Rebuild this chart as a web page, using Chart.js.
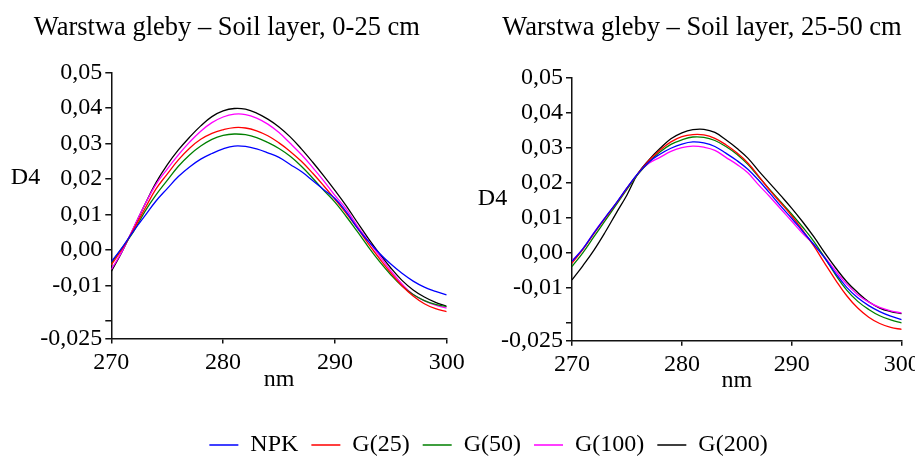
<!DOCTYPE html>
<html lang="pl">
<head>
    <meta charset="UTF-8">
    <title>D4 - Soil layers</title>
    <script src="https://cdn.jsdelivr.net/npm/chart.js"></script>
    <style>
        html, body {
            margin: 0;
            padding: 0;
            background: #fff;
            overflow: hidden;
        }
        body {
            width: 915px;
            height: 457px;
            position: relative;
        }
        .panel {
            position: absolute;
        }
        #leftBox { left: 0; top: 0; width: 480px; height: 400px; }
        #rightBox { left: 460px; top: 0; width: 470px; height: 400px; }
        /* legend box is taller than the page so the legend gets its full height */
        #legendBox { left: 62px; top: 420px; width: 853px; height: 110px; }
    </style>
</head>
<body>
    <div class="panel" id="leftBox"><canvas id="leftChart"></canvas></div>
    <div class="panel" id="rightBox"><canvas id="rightChart"></canvas></div>
    <div class="panel" id="legendBox"><canvas id="legendChart"></canvas></div>

    <script>
        // wavelength, nm
        const wavelengths = [270, 271, 272, 273, 274, 275, 276, 277, 278, 279, 280,
                             281, 282, 283, 284, 285, 286, 287, 288, 289, 290,
                             291, 292, 293, 294, 295, 296, 297, 298, 299, 300];

        const seriesNames = ['NPK', 'G(25)', 'G(50)', 'G(100)', 'G(200)'];
        const seriesColors = ['#0000ff', '#ff0000', '#008000', '#ff00ff', '#000000'];

        // soil layer 0-25 cm
        const npkTop = [-0.0033, 0.0008, 0.0054, 0.0096, 0.0138, 0.0173, 0.0207, 0.0234, 0.0256, 0.0272, 0.0285,
                        0.0293, 0.0292, 0.0285, 0.0274, 0.0261, 0.0241, 0.0221, 0.0196, 0.0170, 0.0145,
                        0.0108, 0.0062, 0.0024, -0.0010, -0.0040, -0.0066, -0.0088, -0.0105, -0.0117, -0.0127];
        const g25Top = [-0.0042, 0.0004, 0.0058, 0.0116, 0.0172, 0.0214, 0.0254, 0.0287, 0.0312, 0.0329, 0.0339,
                        0.0345, 0.0344, 0.0336, 0.0322, 0.0302, 0.0278, 0.0250, 0.0217, 0.0181, 0.0143,
                        0.0104, 0.0062, 0.0017, -0.0025, -0.0065, -0.0101, -0.0130, -0.0152, -0.0166, -0.0174];
        const g50Top = [-0.0037, 0.0007, 0.0052, 0.0108, 0.0155, 0.0196, 0.0236, 0.0268, 0.0293, 0.0312, 0.0323,
                        0.0327, 0.0325, 0.0317, 0.0303, 0.0286, 0.0264, 0.0236, 0.0203, 0.0168, 0.0135,
                        0.0095, 0.0052, 0.0008, -0.0033, -0.0070, -0.0102, -0.0126, -0.0143, -0.0154, -0.0160];
        const g100Top = [-0.0055, -0.0002, 0.0063, 0.0128, 0.0185, 0.0228, 0.0268, 0.0304, 0.0335, 0.0359, 0.0375,
                         0.0383, 0.0382, 0.0372, 0.0355, 0.0331, 0.0301, 0.0269, 0.0233, 0.0195, 0.0154,
                         0.0116, 0.0068, 0.0025, -0.0017, -0.0059, -0.0096, -0.0126, -0.0143, -0.0156, -0.0164];
        const g200Top = [-0.0061, -0.0003, 0.0062, 0.0128, 0.0190, 0.0240, 0.0282, 0.0318, 0.0350, 0.0376, 0.0392,
                         0.0399, 0.0397, 0.0386, 0.0369, 0.0347, 0.0319, 0.0285, 0.0248, 0.0209, 0.0168,
                         0.0125, 0.0078, 0.0032, -0.0011, -0.0051, -0.0086, -0.0113, -0.0133, -0.0148, -0.0159];

        // soil layer 25-50 cm
        const npkSub = [-0.0024, 0.0012, 0.0057, 0.0100, 0.0141, 0.0185, 0.0226, 0.0259, 0.0281, 0.0298, 0.0310,
                        0.0316, 0.0313, 0.0303, 0.0284, 0.0263, 0.0238, 0.0206, 0.0170, 0.0133, 0.0098,
                        0.0061, 0.0024, -0.0015, -0.0059, -0.0098, -0.0128, -0.0150, -0.0167, -0.0180, -0.0190];
        const g25Sub = [-0.0029, 0.0010, 0.0055, 0.0098, 0.0140, 0.0184, 0.0226, 0.0263, 0.0292, 0.0316, 0.0331,
                        0.0337, 0.0336, 0.0326, 0.0308, 0.0285, 0.0256, 0.0218, 0.0178, 0.0142, 0.0105,
                        0.0064, 0.0020, -0.0030, -0.0078, -0.0122, -0.0157, -0.0183, -0.0201, -0.0212, -0.0218];
        const g50Sub = [-0.0039, 0.0001, 0.0046, 0.0091, 0.0136, 0.0181, 0.0224, 0.0259, 0.0287, 0.0309, 0.0322,
                        0.0330, 0.0329, 0.0320, 0.0303, 0.0281, 0.0252, 0.0216, 0.0180, 0.0145, 0.0110,
                        0.0073, 0.0033, -0.0014, -0.0063, -0.0106, -0.0138, -0.0161, -0.0179, -0.0191, -0.0199];
        const g100Sub = [-0.0023, 0.0012, 0.0058, 0.0100, 0.0140, 0.0185, 0.0225, 0.0255, 0.0272, 0.0289, 0.0300,
                         0.0304, 0.0301, 0.0292, 0.0272, 0.0252, 0.0228, 0.0193, 0.0160, 0.0125, 0.0090,
                         0.0055, 0.0024, -0.0012, -0.0052, -0.0089, -0.0119, -0.0140, -0.0155, -0.0165, -0.0171];
        const g200Sub = [-0.0077, -0.0036, 0.0008, 0.0058, 0.0112, 0.0165, 0.0226, 0.0265, 0.0297, 0.0325, 0.0342,
                         0.0351, 0.0352, 0.0343, 0.0322, 0.0298, 0.0270, 0.0233, 0.0198, 0.0163, 0.0127,
                         0.0088, 0.0046, 0.0000, -0.0043, -0.0082, -0.0113, -0.0139, -0.0157, -0.0167, -0.0173];

        // axis ticks
        const xTickVals = [270, 280, 290, 300];
        const yTickVals = [-0.025, -0.02, -0.01, 0, 0.01, 0.02, 0.03, 0.04, 0.05];
        const yTickLabels = ['-0,025', '', '-0,01', '0,00', '0,01', '0,02', '0,03', '0,04', '0,05'];

        const SERIF = '"Liberation Serif", "Times New Roman", serif';
        Chart.defaults.font.family = SERIF;
        Chart.defaults.font.size = 24;
        Chart.defaults.color = '#000';
        Chart.defaults.animation = false;

        // horizontal "D4" label beside the y axis
        const sideLabel = {
            id: 'sideLabel',
            afterDraw(chart, args, opts) {
                if (!opts.text) return;
                const ctx = chart.ctx;
                ctx.save();
                ctx.font = '24px ' + SERIF;
                ctx.fillStyle = '#000';
                ctx.textAlign = 'center';
                ctx.textBaseline = 'middle';
                ctx.fillText(opts.text, opts.x, opts.y);
                ctx.restore();
            }
        };

        function makeDatasets(seriesList) {
            return seriesList.map((vals, i) => ({
                label: seriesNames[i],
                data: wavelengths.map((w, j) => ({ x: w, y: vals[j] })),
                borderColor: seriesColors[i],
                backgroundColor: seriesColors[i],
                borderWidth: 1.3,
                pointRadius: 0,
                tension: 0.4,
                fill: false
            }));
        }

        function renderPanel(canvasId, title, seriesList, cfg) {
            const ctx = document.getElementById(canvasId).getContext('2d');
            new Chart(ctx, {
                type: 'line',
                data: { datasets: makeDatasets(seriesList) },
                options: {
                    responsive: true,
                    maintainAspectRatio: false,
                    layout: { padding: { left: cfg.padLeft, right: cfg.padRight, top: 0, bottom: 0 } },
                    plugins: {
                        legend: { display: false },
                        tooltip: { enabled: false },
                        title: {
                            display: true,
                            text: title,
                            align: cfg.titleAlign,
                            font: { size: 26.5, weight: 'normal', family: SERIF },
                            color: '#000',
                            padding: { top: 12, bottom: cfg.titleGap }
                        },
                        sideLabel: { text: 'D4', x: cfg.d4x, y: cfg.d4y }
                    },
                    scales: {
                        x: {
                            type: 'linear',
                            min: 270,
                            max: 300,
                            afterBuildTicks: scale => { scale.ticks = xTickVals.map(v => ({ value: v })); },
                            afterFit: scale => { scale.height = cfg.xHeight; },
                            ticks: { padding: 5, maxRotation: 0 },
                            grid: {
                                display: true,
                                drawOnChartArea: false,
                                drawTicks: true,
                                tickLength: 5,
                                color: '#111',
                                lineWidth: 1.5
                            },
                            border: { display: true, color: '#111', width: 1.5 },
                            title: {
                                display: true,
                                text: 'nm',
                                font: { size: 24, family: SERIF },
                                padding: { top: 0, bottom: cfg.nmPad }
                            }
                        },
                        y: {
                            type: 'linear',
                            min: -0.025,
                            max: 0.05,
                            afterBuildTicks: scale => { scale.ticks = yTickVals.map(v => ({ value: v })); },
                            afterFit: scale => { scale.width = cfg.yWidth; },
                            ticks: {
                                padding: 3,
                                callback: (value, index) => yTickLabels[index]
                            },
                            grid: {
                                display: true,
                                drawOnChartArea: false,
                                drawTicks: true,
                                tickLength: 6,
                                color: '#111',
                                lineWidth: 1.5
                            },
                            border: { display: true, color: '#111', width: 1.5 }
                        }
                    }
                },
                plugins: [sideLabel]
            });
        }

        function renderLegend() {
            const ctx = document.getElementById('legendChart').getContext('2d');
            new Chart(ctx, {
                type: 'line',
                data: {
                    datasets: seriesNames.map((name, i) => ({
                        label: name,
                        data: [],
                        borderColor: seriesColors[i],
                        backgroundColor: seriesColors[i],
                        borderWidth: 1.5
                    }))
                },
                options: {
                    responsive: true,
                    maintainAspectRatio: false,
                    layout: { padding: 0 },
                    scales: { x: { display: false }, y: { display: false } },
                    plugins: {
                        tooltip: { enabled: false },
                        legend: {
                            display: true,
                            position: 'top',
                            labels: {
                                boxWidth: 29,
                                boxHeight: 0,
                                padding: 13,
                                color: '#000',
                                font: { size: 24, family: SERIF }
                            }
                        }
                    }
                }
            });
        }

        renderPanel('leftChart', 'Warstwa gleby \u2013 Soil layer, 0-25 cm',
            [npkTop, g25Top, g50Top, g100Top, g200Top],
            { padLeft: 7, padRight: 33.3, yWidth: 104.3, xHeight: 61.5, titleGap: 28.9, titleAlign: 'center',
              nmPad: 5.6, d4x: 25.5, d4y: 177.5 });

        renderPanel('rightChart', 'Warstwa gleby \u2013 Soil layer, 25-50 cm',
            [npkSub, g25Sub, g50Sub, g100Sub, g200Sub],
            { padLeft: 20, padRight: 28.3, yWidth: 92, xHeight: 59.3, titleGap: 33.5, titleAlign: 'end',
              nmPad: 4.6, d4x: 32.5, d4y: 199 });

        renderLegend();
    </script>
</body>
</html>
